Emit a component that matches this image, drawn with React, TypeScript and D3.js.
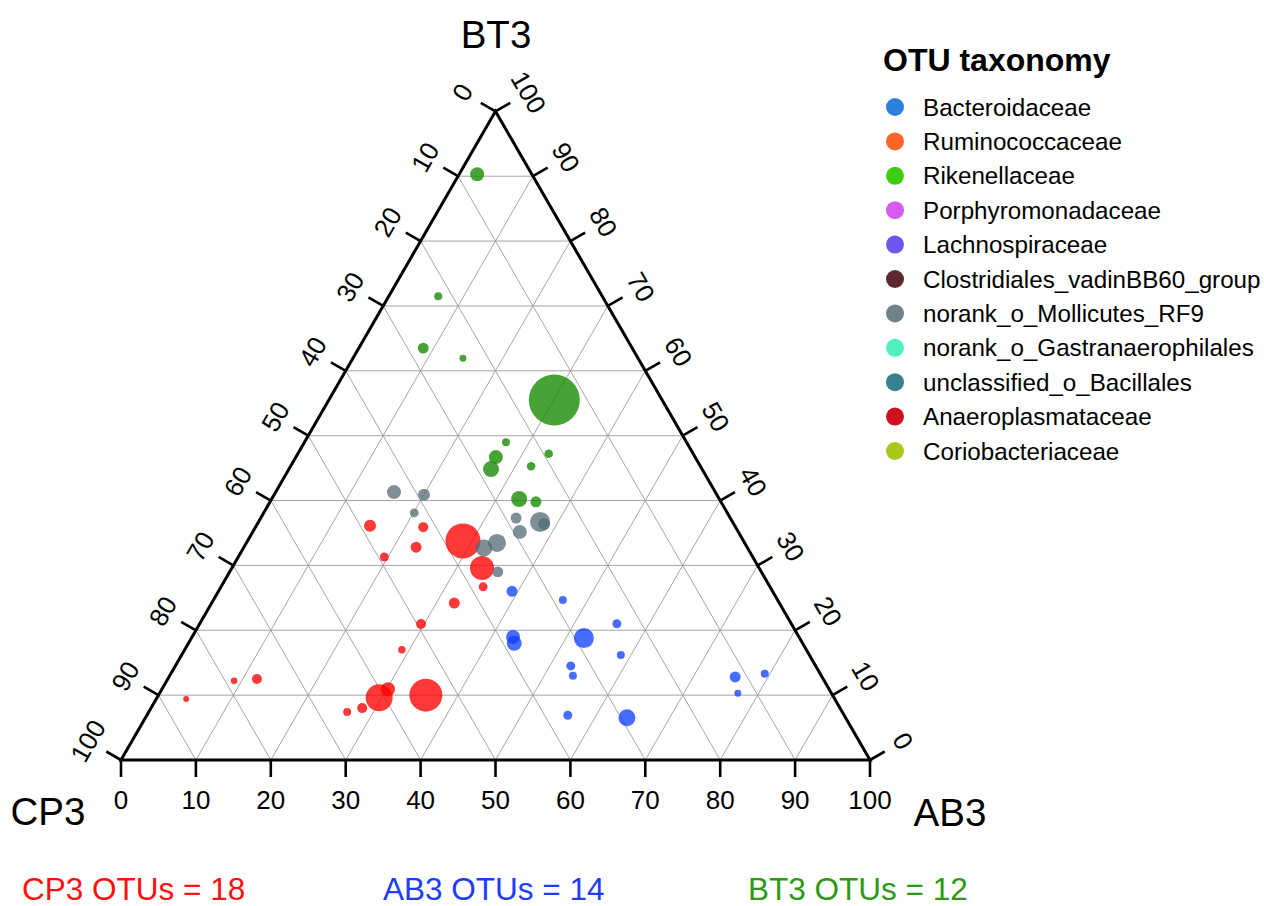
import React from "react";
import * as d3 from "d3";

// OTU positions as [CP3 %, AB3 %, BT3 %, relative abundance %]
const cp3Enriched: number[][] = [
  [48.7, 15.2, 36.1, 0.36], [41.7, 22.4, 35.9, 0.25], [44.2, 23.0, 32.8, 0.3],
  [49.2, 19.5, 31.3, 0.2], [37.5, 28.8, 33.8, 3.06], [37.0, 33.4, 29.6, 1.44],
  [38.3, 35.0, 26.7, 0.2], [43.4, 32.4, 24.2, 0.3], [49.5, 29.6, 21.0, 0.25],
  [54.0, 29.0, 17.0, 0.14], [75.6, 11.9, 12.5, 0.25], [78.8, 9.0, 12.2, 0.11],
  [86.6, 4.0, 9.4, 0.09], [66.1, 26.5, 7.4, 0.16], [63.8, 28.2, 8.0, 0.25],
  [60.8, 29.7, 9.6, 1.82], [58.9, 30.2, 10.9, 0.49], [54.3, 35.7, 10.0, 2.72],
];
const ab3Enriched: number[][] = [
  [34.8, 39.2, 26.0, 0.3], [28.7, 46.7, 24.7, 0.16], [23.3, 55.7, 21.0, 0.2],
  [38.2, 42.9, 19.0, 0.49], [38.5, 43.5, 18.0, 0.56], [28.8, 52.4, 18.8, 1.0],
  [25.2, 58.7, 16.2, 0.16], [32.7, 52.8, 14.5, 0.2], [33.2, 53.9, 13.0, 0.16],
  [11.6, 75.6, 12.8, 0.3], [7.4, 79.3, 13.3, 0.16], [12.5, 77.2, 10.3, 0.12],
  [36.9, 56.2, 6.9, 0.2], [29.2, 64.3, 6.5, 0.72],
];
const bt3Enriched: number[][] = [
  [7.3, 2.4, 90.4, 0.49], [21.9, 6.6, 71.5, 0.16], [27.9, 8.6, 63.5, 0.3],
  [23.4, 14.7, 62.0, 0.12], [14.4, 30.1, 55.5, 6.5], [24.1, 26.9, 49.0, 0.16],
  [26.6, 26.7, 46.7, 0.49], [28.2, 27.0, 44.9, 0.64], [19.3, 33.5, 47.2, 0.18],
  [22.6, 32.1, 45.3, 0.18], [26.7, 33.0, 40.2, 0.64], [24.7, 35.5, 39.8, 0.3],
];
const notEnriched: number[][] = [
  [42.9, 15.8, 41.3, 0.49], [39.1, 20.0, 40.9, 0.36], [41.8, 20.1, 38.1, 0.2],
  [28.6, 34.1, 37.3, 0.3], [25.7, 37.6, 36.7, 1.0], [25.3, 38.3, 36.4, 0.36],
  [29.2, 35.7, 35.2, 0.49], [33.1, 33.5, 33.5, 0.81], [35.2, 32.1, 32.7, 0.72],
  [35.2, 35.8, 29.0, 0.3],
];

const axisTicks = [0, 10, 20, 30, 40, 50, 60, 70, 80, 90, 100];

const taxa = [
  "Bacteroidaceae", "Ruminococcaceae", "Rikenellaceae", "Porphyromonadaceae",
  "Lachnospiraceae", "Clostridiales_vadinBB60_group", "norank_o_Mollicutes_RF9",
  "norank_o_Gastranaerophilales", "unclassified_o_Bacillales",
  "Anaeroplasmataceae", "Coriobacteriaceae",
];
const taxaColors = [
  "#2f7fe0", "#ff6526", "#3ccc12", "#d45cf0", "#6e55f2", "#5c2a2e",
  "#6f828a", "#4ef0c0", "#37818f", "#d0101e", "#a6c81a",
];

const groupCounts = [
  { label: "CP3 OTUs = ", n: cp3Enriched.length, color: "#ff1010", x: 22 },
  { label: "AB3 OTUs = ", n: ab3Enriched.length, color: "#1c3cff", x: 383 },
  { label: "BT3 OTUs = ", n: bt3Enriched.length, color: "#2c9a12", x: 748 },
];

const FONT = "'Liberation Sans', Arial, Helvetica, sans-serif";

export default function App() {
  const left = 121, right = 870, base = 760;
  const side = right - left;
  const height = (side * Math.sqrt(3)) / 2;

  // ternary projection built on two linear scales
  const xs = d3.scaleLinear().domain([0, 100]).range([left, right]);
  const ys = d3.scaleLinear().domain([0, 100]).range([base, base - height]);
  const proj = (cp: number, ab: number, bt: number): [number, number] => {
    const s = cp + ab + bt;
    const a = (ab / s) * 100, b = (bt / s) * 100;
    return [xs(a + b / 2), ys(b)];
  };
  const rScale = d3.scaleSqrt().domain([0, 6.5]).range([0, 25.5]);

  const L = proj(100, 0, 0), R = proj(0, 100, 0), T = proj(0, 0, 100);
  const line = d3.line();

  const grid: [number, number][][] = [];
  for (let v = 10; v < 100; v += 10) {
    grid.push([proj(100 - v, 0, v), proj(0, 100 - v, v)]);
    grid.push([proj(100 - v, v, 0), proj(0, v, 100 - v)]);
    grid.push([proj(v, 100 - v, 0), proj(v, 0, 100 - v)]);
  }

  const tickLen = 17, labelOff = 38, tickFont = 26;
  const c30 = Math.cos(Math.PI / 6), s30 = 0.5;

  const series = [
    { pts: cp3Enriched, fill: "#ff0000", op: 0.78 },
    { pts: ab3Enriched, fill: "#0a3cff", op: 0.75 },
    { pts: bt3Enriched, fill: "#1f8f08", op: 0.82 },
    { pts: notEnriched, fill: "#536a76", op: 0.75 },
  ];

  return (
    <svg
      width={1264}
      height={906}
      style={{ position: "absolute", left: 0, top: 0, background: "#fff" }}
      fontFamily={FONT}
    >
      <g>
        {grid.map((g, i) => (
          <path key={i} d={line(g) || ""} stroke="#9b9b9b" strokeWidth={0.9} fill="none" />
        ))}
      </g>

      {/* bottom axis: AB3 */}
      {axisTicks.map((v) => {
        const [x, y] = proj(100 - v, v, 0);
        return (
          <g key={"b" + v}>
            <line x1={x} y1={y} x2={x} y2={y + tickLen} stroke="#000" strokeWidth={2.6} />
            <text x={x} y={y + 40} fontSize={tickFont} textAnchor="middle" dominantBaseline="central">
              {v}
            </text>
          </g>
        );
      })}
      {/* left axis: CP3 */}
      {axisTicks.map((v) => {
        const [x, y] = proj(v, 0, 100 - v);
        const dx = -c30, dy = -s30;
        return (
          <g key={"l" + v}>
            <line x1={x} y1={y} x2={x + dx * tickLen} y2={y + dy * tickLen} stroke="#000" strokeWidth={2.6} />
            <text
              transform={`translate(${x + dx * labelOff},${y + dy * labelOff}) rotate(-60)`}
              fontSize={tickFont}
              textAnchor="middle"
              dominantBaseline="central"
            >
              {v}
            </text>
          </g>
        );
      })}
      {/* right axis: BT3 */}
      {axisTicks.map((v) => {
        const [x, y] = proj(0, 100 - v, v);
        const dx = c30, dy = -s30;
        return (
          <g key={"r" + v}>
            <line x1={x} y1={y} x2={x + dx * tickLen} y2={y + dy * tickLen} stroke="#000" strokeWidth={2.6} />
            <text
              transform={`translate(${x + dx * labelOff},${y + dy * labelOff}) rotate(60)`}
              fontSize={tickFont}
              textAnchor="middle"
              dominantBaseline="central"
            >
              {v}
            </text>
          </g>
        );
      })}

      <path
        d={(line([L, R, T]) || "") + "Z"}
        fill="none"
        stroke="#000"
        strokeWidth={3}
        strokeLinejoin="miter"
      />

      {series.map((s, si) => (
        <g key={si}>
          {s.pts.map((p, i) => {
            const [x, y] = proj(p[0], p[1], p[2]);
            return <circle key={i} cx={x} cy={y} r={rScale(p[3])} fill={s.fill} fillOpacity={s.op} />;
          })}
        </g>
      ))}

      {/* vertex titles */}
      <text x={496} y={48} fontSize={38.5} textAnchor="middle">BT3</text>
      <text x={48} y={825} fontSize={38.5} textAnchor="middle">CP3</text>
      <text x={950} y={826} fontSize={38.5} textAnchor="middle">AB3</text>

      {/* legend */}
      <text x={883} y={71} fontSize={32} fontWeight="bold">OTU taxonomy</text>
      {taxa.map((t, i) => {
        const y = 107 + i * 34.4;
        return (
          <g key={t}>
            <circle cx={895} cy={y} r={9} fill={taxaColors[i]} />
            <text x={923} y={y} fontSize={24.2} dominantBaseline="central">{t}</text>
          </g>
        );
      })}

      {groupCounts.map((g) => (
        <text key={g.label} x={g.x} y={900} fontSize={31.5} fill={g.color}>
          {g.label + g.n}
        </text>
      ))}
    </svg>
  );
}
